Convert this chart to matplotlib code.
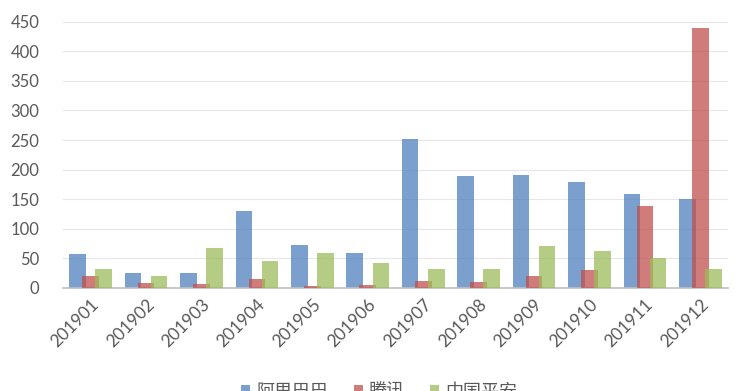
import matplotlib.pyplot as plt
import numpy as np

months = ["201901", "201902", "201903", "201904", "201905", "201906",
          "201907", "201908", "201909", "201910", "201911", "201912"]
alibaba = [58, 25, 25, 130, 73, 59, 252, 189, 191, 179, 159, 150]
tencent = [20, 8.5, 7, 15, 3.5, 5, 12, 10, 20, 30, 139, 440]
pingan = [32, 20, 68, 46, 59, 42, 32, 32, 71, 63, 51, 32]
series_names = ["阿里巴巴", "腾讯", "中国平安"]

colors = ["#4F81BD", "#C0504D", "#9BBB59"]

plt.rcParams["font.family"] = ["Lato", "Noto Sans CJK SC", "DejaVu Sans"]

fig = plt.figure(figsize=(7.51, 3.91), dpi=100)
ax = fig.add_axes([63 / 751, 1 - 288 / 391, 665 / 751, 296 / 391])

x = np.arange(len(months))
width = 0.30
step = 0.235
for i, (vals, name) in enumerate(zip([alibaba, tencent, pingan], series_names)):
    ax.bar(x + (i - 1) * step, vals, width, color=colors[i], alpha=0.75,
           label=name, zorder=2 + i, linewidth=0)

ax.set_xlim(-0.5, len(months) - 0.5)
ax.set_ylim(0, 500)
ax.set_yticks(range(0, 501, 50))
ax.set_xticks(x)
ax.set_xticklabels(months, rotation=45, ha="right", rotation_mode="anchor")

ax.grid(axis="y", color="#E6E6E6", linewidth=0.8, zorder=0)
ax.set_axisbelow(True)
for side in ["top", "right", "left"]:
    ax.spines[side].set_visible(False)
ax.spines["bottom"].set_color("#BFBFBF")
ax.spines["bottom"].set_linewidth(1.2)
ax.tick_params(axis="y", length=0, labelsize=12, colors="#595959", pad=17)
ax.tick_params(axis="x", length=0, labelsize=12.5, colors="#595959", pad=6)

fig.legend(loc="center", bbox_to_anchor=(0.505, 1 - 392 / 391), ncol=3,
           frameon=False, handlelength=0.5, handleheight=0.5,
           handletextpad=0.35, columnspacing=1.4, labelcolor="#595959",
           prop={"family": ["Noto Sans CJK SC", "DejaVu Sans"], "size": 13})

fig.savefig("out.png", dpi=100)
